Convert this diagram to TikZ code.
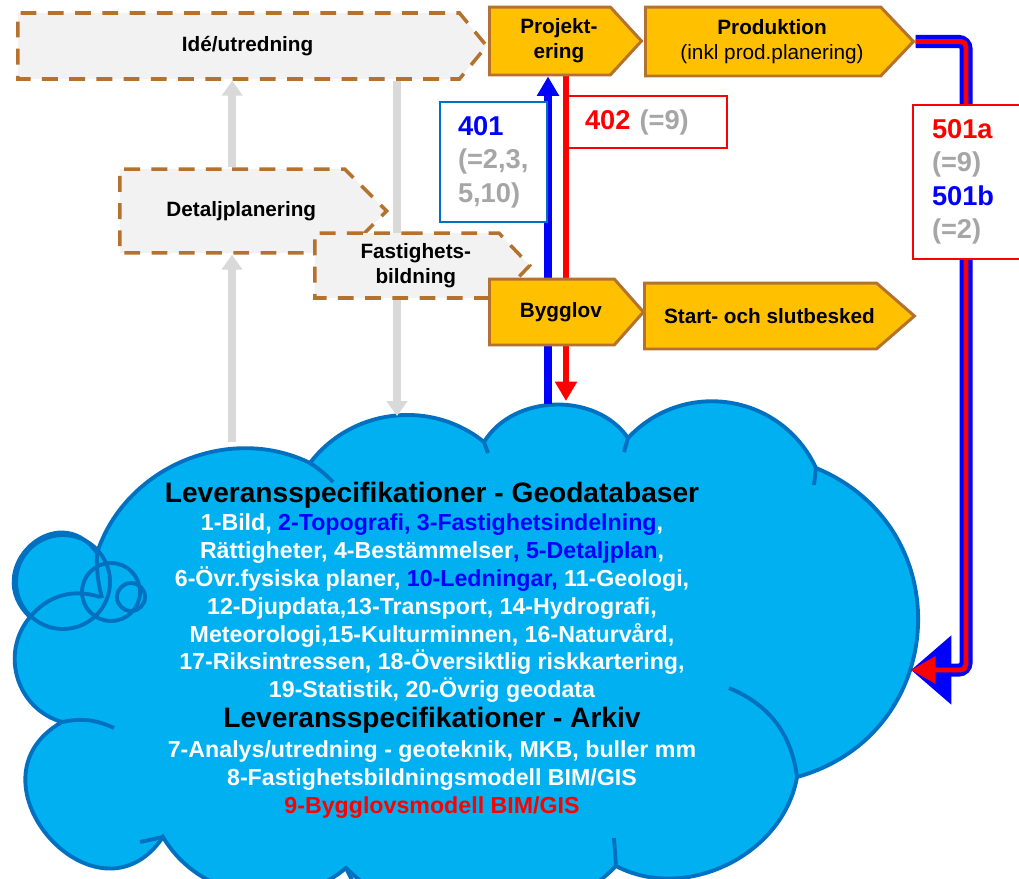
\documentclass[tikz,border=0pt]{standalone}
\usepackage{fontspec}
\setmainfont{Liberation Sans}
\usetikzlibrary{shapes.symbols,arrows.meta,backgrounds}
\definecolor{stagefill}{HTML}{FFC000}
\definecolor{stageline}{HTML}{B5722F}
\definecolor{idlefill}{HTML}{F2F2F2}
\definecolor{cloudfill}{HTML}{00B0F0}
\definecolor{cloudline}{HTML}{0070C0}
\definecolor{tagblue}{HTML}{0070C0}
\definecolor{refgray}{HTML}{A6A6A6}
\definecolor{arrowgray}{HTML}{D9D9D9}
\definecolor{pureblue}{HTML}{0000FF}
\definecolor{purered}{HTML}{FF0000}
\newcommand{\ind}{\hspace*{0.36cm}}

\begin{document}
\begin{tikzpicture}[x=0.02cm, y=-0.02cm,
    stage/.style={signal, signal to=east, draw=stageline, line width=1.7pt, fill=stagefill, align=center, inner sep=0pt,
        font=\fontsize{11.8}{14.2}\selectfont\bfseries},
    idle/.style={stage, fill=idlefill, line width=2pt, dash pattern=on 9pt off 6.5pt},
    tag/.style={draw, fill=white, line width=1.2pt, inner sep=0pt, align=left, text=refgray,
        font=\fontsize{15.5}{19}\selectfont\bfseries},
    grayarrow/.style={draw=arrowgray, line width=4.5pt, -{Triangle[length=8.5pt,width=11.5pt]}},
    upline/.style={draw=pureblue, line width=4pt, -{Triangle[length=11pt,width=12pt]}},
    downline/.style={draw=purered, line width=3.4pt, -{Triangle[length=11pt,width=12pt]}},
    wideblue/.style={draw=pureblue, line width=7.4pt, rounded corners=4pt, -{Triangle[length=23pt,width=38pt]}},
    widered/.style={draw=purered, line width=2.8pt, rounded corners=3pt, -{Triangle[length=14pt,width=15pt]}},
    puff/.style={draw=cloudline, line width=2.2pt}
]
    \useasboundingbox (0,0) rectangle (1019,879);

    % process steps
    \node[idle, minimum width=9.38cm, minimum height=1.32cm, signal pointer angle=101, anchor=west] (idea) at (16,46) {\ind Idé/utredning};
    \node[idle, minimum width=5.34cm, minimum height=1.68cm, signal pointer angle=90, anchor=west] (det) at (118,211) {\ind Detaljplanering};
    \node[idle, minimum width=4.3cm, minimum height=1.3cm, signal pointer angle=93, anchor=west] (fast) at (313,265.5) {\ind Fastighets-\\\ind bildning};
    \node[stage, minimum width=3.04cm, minimum height=1.36cm, signal pointer angle=95, anchor=west] (proj) at (488,41) {\ind Projekt-\\\ind ering};
    \node[stage, minimum width=5.36cm, minimum height=1.38cm, signal pointer angle=93, anchor=west] (prod) at (644,41.5) {\ind Produktion\\\ind{\mdseries (inkl prod.planering)}};
    \node[stage, minimum width=3.08cm, minimum height=1.32cm, signal pointer angle=97, anchor=west] (bygg) at (488,312) {\ind Bygglov};
    \node[stage, minimum width=5.4cm, minimum height=1.32cm, signal pointer angle=82, anchor=west] (start) at (643,316) {\ind Start- och slutbesked};

    % flow labels
    \node[tag, draw=tagblue, minimum width=2.14cm, minimum height=2.4cm, text width=1.42cm] (t401) at (493.5,162)
        {{\color{pureblue}401}\\(=2,3,\\5,10)};
    \node[tag, draw=purered, minimum width=3.18cm, minimum height=1.04cm, text width=2.5cm] (t402) at (647.5,122)
        {{\color{purered}402} (=9)};
    \node[tag, draw=purered, minimum width=2.4cm, minimum height=3.08cm, text width=1.64cm] (t501) at (973,182)
        {{\color{purered}501a}\\(=9)\\{\color{pureblue}501b}\\(=2)};

    % cloud contents
    \node[text=white, align=center, font=\fontsize{13.2}{15.9}\selectfont\bfseries] (cloud) at (432,650) {%
        {\fontsize{16}{18}\selectfont\color{black}Leveransspecifikationer - Geodatabaser}\\
        1-Bild, {\color{pureblue}2-Topografi, 3-Fastighetsindelning},\\
        Rättigheter, 4-Bestämmelser{\color{pureblue}, 5-Detaljplan},\\
        6-Övr.fysiska planer, {\color{pureblue}10-Ledningar,} 11-Geologi,\\
        12-Djupdata,13-Transport, 14-Hydrografi,\\
        Meteorologi,15-Kulturminnen, 16-Naturvård,\\
        17-Riksintressen, 18-Översiktlig riskkartering,\\
        19-Statistik, 20-Övrig geodata\\[1pt]
        {\fontsize{16}{18}\selectfont\color{black}Leveransspecifikationer - Arkiv}\\[1pt]
        7-Analys/utredning - geoteknik, MKB, buller mm\\
        8-Fastighetsbildningsmodell BIM/GIS\\
        {\color{purered}9-Bygglovsmodell BIM/GIS}};

    % connector ends on the cloud
    \coordinate (cgA) at (232,442);
    \coordinate (cgB) at (397,416);
    \coordinate (cgBlue) at (548,404);
    \coordinate (cgRed) at (566,401);
    \coordinate (cgTurn) at (966,670);
    \coordinate (cgRight) at (911,670);

    \begin{scope}[on background layer]
        % cloud
        \path[puff, fill=cloudfill]
            (97,553) to[bend left=49] (310,463) to[bend left=46] (484,442)
            to[bend left=57] (628,438) to[bend left=56, looseness=1.1] (816,468)
            to[bend left=71, looseness=1.3] (797,777) to[bend left=54] (616,866)
            to[bend left=45] (346,868) to[bend left=50] (163,837)
            to[out=-124, in=209.5, looseness=1.97] (62,722)
            to[bend left=57, looseness=1.1] (30,617)
            to[out=136.7, in=125, looseness=1.9] (97,553) -- cycle;
        \draw[puff] (63,582) circle[radius=47] (111,592) circle[radius=29] (131,597) circle[radius=14];
        \draw[puff] (30,617) to[bend left=34] (100,597);
        \draw[puff] (102,598) to[bend left=8] (97,553);
        \draw[puff] (310,463) to[bend left=6] (333,482);
        \draw[puff] (484,442) -- (488,453);
        \draw[puff] (624,452) -- (628,438);
        \draw[puff] (816,468) -- (814,485);
        \draw[puff] (729,688) to[bend left=30] (797,777);
        \draw[puff] (614,838) -- (616,866);
        \draw[puff] (346,868) -- (352,880);
        \draw[puff] (163,837) -- (140,842);
        \draw[puff] (62,722) to[bend left=18] (114,728);

        % connectors
        \draw[grayarrow] (det.north) -- (det.north |- idea.south);
        \draw[grayarrow] (cgA) -- (cgA |- det.south);
        \draw[grayarrow] (cgB |- idea.south) -- (cgB);
        \draw[upline] (cgBlue) -- (cgBlue |- proj.south);
        \draw[downline] (cgRed |- proj.south) -- (cgRed);
        \draw[wideblue] (prod.east) -| (cgTurn) -- (cgRight);
        \draw[widered] (prod.east) -| (cgTurn) -- (cgRight);
    \end{scope}
\end{tikzpicture}
\end{document}
